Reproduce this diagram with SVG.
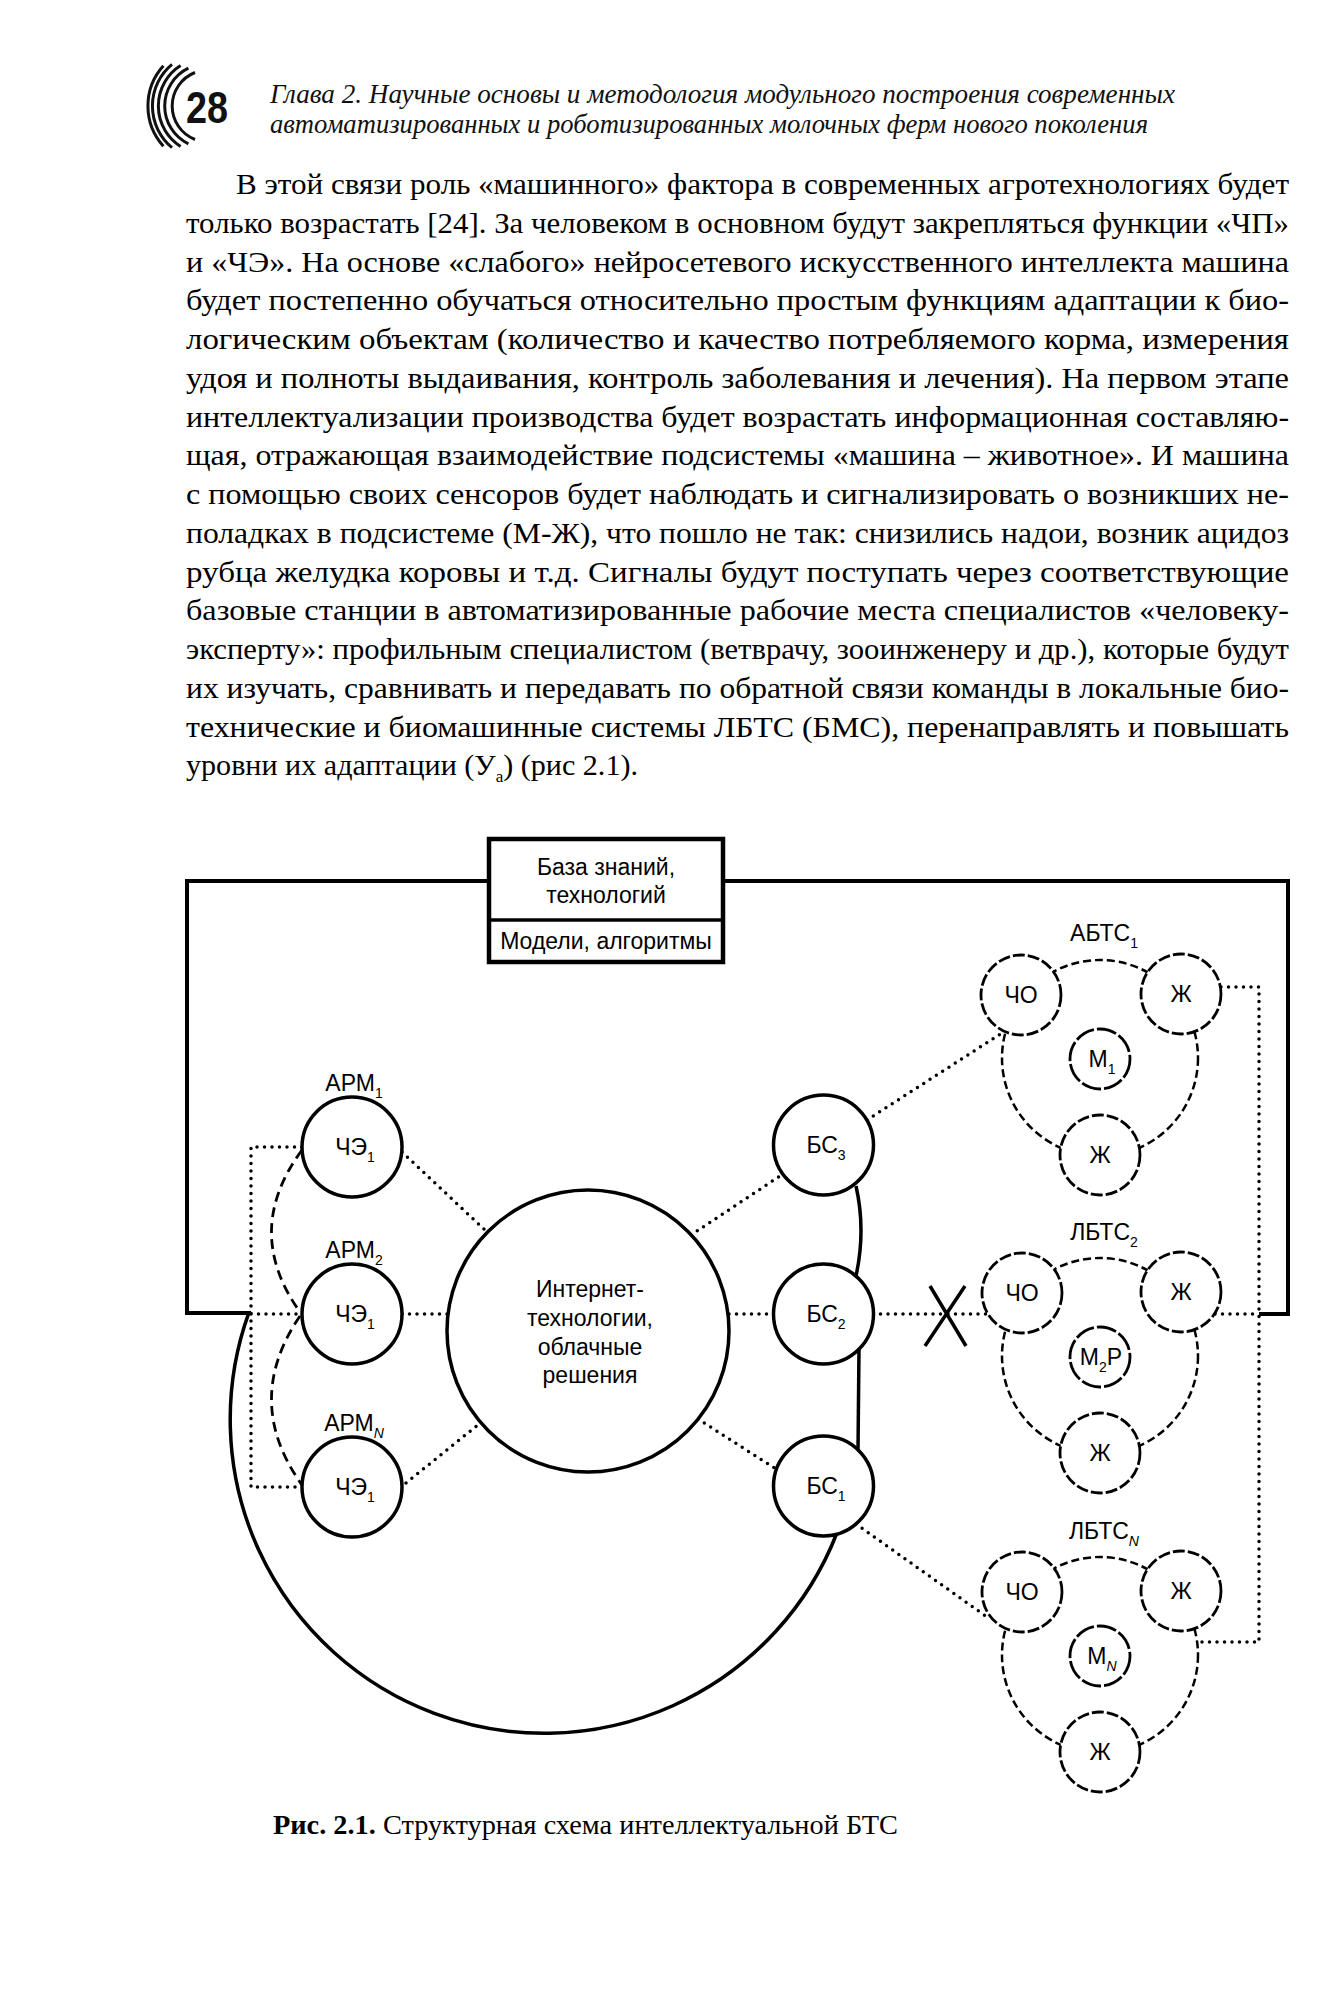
<svg xmlns="http://www.w3.org/2000/svg" width="1329" height="2000" viewBox="0 0 1329 2000">
<style>
.solid{fill:none;stroke:#000;stroke-width:3.5}
.thick{fill:none;stroke:#000;stroke-width:4}
.node{fill:#fff;stroke:#000;stroke-width:3.5}
.dnode{fill:#fff;stroke:#000;stroke-width:2.8;stroke-dasharray:12 3}
.mnode{fill:#fff;stroke:#000;stroke-width:2.8;stroke-dasharray:20 3}
.ring{fill:none;stroke:#000;stroke-width:2.5;stroke-dasharray:8 4}
.dot{fill:none;stroke:#000;stroke-width:3.5;stroke-linecap:round;stroke-dasharray:0 7.5}
.dash{fill:none;stroke:#000;stroke-width:2.8;stroke-dasharray:10 6}
.lbl{font-family:"Liberation Sans",Arial,sans-serif;font-size:23px;fill:#000;text-anchor:middle}
.sub{font-size:14px}
.body{font-family:"Liberation Serif","Times New Roman",serif;font-size:30px;fill:#000}
.head{font-family:"Liberation Serif","Times New Roman",serif;font-size:28px;font-style:italic;fill:#111}
</style>
<rect width="1329" height="2000" fill="#fff"/>

<g id="header">
  <g id="logo" fill="none" stroke="#111" stroke-width="3">
    <path d="M163.4 65.8 A60 60 0 0 0 163.4 146.2"/>
    <path d="M172 64.4 A54 54 0 0 0 172 147.6"/>
    <path d="M180.6 65.5 A48 48 0 0 0 180.6 146.5"/>
    <path d="M188.4 68.2 A42 42 0 0 0 188.4 143.8"/>
    <path d="M195 72.5 A36 36 0 0 0 195 139.5"/>
  </g>
  <text x="207" y="123" font-family="Liberation Sans, Arial, sans-serif" font-weight="bold" font-size="44" text-anchor="middle" fill="#111" textLength="42" lengthAdjust="spacingAndGlyphs">28</text>
  <text class="head" x="270" y="103" textLength="905" lengthAdjust="spacingAndGlyphs">Глава 2. Научные основы и методология модульного построения современных</text>
  <text class="head" x="270" y="133" textLength="878" lengthAdjust="spacingAndGlyphs">автоматизированных и роботизированных молочных ферм нового поколения</text>
</g>

<g id="body-text" class="body">
  <text x="236" y="194" textLength="1053" lengthAdjust="spacingAndGlyphs">В этой связи роль «машинного» фактора в современных агротехнологиях будет</text>
  <text x="186" y="232.75" textLength="1103" lengthAdjust="spacingAndGlyphs">только возрастать [24]. За человеком в основном будут закрепляться функции «ЧП»</text>
  <text x="186" y="271.5" textLength="1103" lengthAdjust="spacingAndGlyphs">и «ЧЭ». На основе «слабого» нейросетевого искусственного интеллекта машина</text>
  <text x="186" y="310.25" textLength="1103" lengthAdjust="spacingAndGlyphs">будет постепенно обучаться относительно простым функциям адаптации к био-</text>
  <text x="186" y="349" textLength="1103" lengthAdjust="spacingAndGlyphs">логическим объектам (количество и качество потребляемого корма, измерения</text>
  <text x="186" y="387.75" textLength="1103" lengthAdjust="spacingAndGlyphs">удоя и полноты выдаивания, контроль заболевания и лечения). На первом этапе</text>
  <text x="186" y="426.5" textLength="1103" lengthAdjust="spacingAndGlyphs">интеллектуализации производства будет возрастать информационная составляю-</text>
  <text x="186" y="465.25" textLength="1103" lengthAdjust="spacingAndGlyphs">щая, отражающая взаимодействие подсистемы «машина – животное». И машина</text>
  <text x="186" y="504" textLength="1103" lengthAdjust="spacingAndGlyphs">с помощью своих сенсоров будет наблюдать и сигнализировать о возникших не-</text>
  <text x="186" y="542.75" textLength="1103" lengthAdjust="spacingAndGlyphs">поладках в подсистеме (М-Ж), что пошло не так: снизились надои, возник ацидоз</text>
  <text x="186" y="581.5" textLength="1103" lengthAdjust="spacingAndGlyphs">рубца желудка коровы и т.д. Сигналы будут поступать через соответствующие</text>
  <text x="186" y="620.25" textLength="1103" lengthAdjust="spacingAndGlyphs">базовые станции в автоматизированные рабочие места специалистов «человеку-</text>
  <text x="186" y="659" textLength="1103" lengthAdjust="spacingAndGlyphs">эксперту»: профильным специалистом (ветврачу, зооинженеру и др.), которые будут</text>
  <text x="186" y="697.75" textLength="1103" lengthAdjust="spacingAndGlyphs">их изучать, сравнивать и передавать по обратной связи команды в локальные био-</text>
  <text x="186" y="736.5" textLength="1103" lengthAdjust="spacingAndGlyphs">технические и биомашинные системы ЛБТС (БМС), перенаправлять и повышать</text>
  <text x="186" y="775.25" textLength="452" lengthAdjust="spacingAndGlyphs">уровни их адаптации (У<tspan font-size="17" dy="7">а</tspan><tspan dy="-7">) (рис 2.1).</tspan></text>
</g>

<g id="connectors">
  <path class="thick" d="M489 881 H187 V1313 H251"/>
  <path class="thick" d="M723 881 H1288 V1314 H1259"/>
  <path class="solid" d="M248.9 1312.6 A314 314 0 0 0 837.1 1532.5"/>
  <path class="solid" d="M858 1450 L859 1349"/>
  <path class="solid" d="M856 1276 Q866 1230 856 1186"/>
  <path class="dot" d="M302 1147 H251 V1487 H302"/>
  <path class="dot" d="M251 1314 H302"/>
  <path class="dash" d="M302 1150 Q242 1231 300 1312"/>
  <path class="dash" d="M300 1316 Q242 1401 302 1485"/>
  <path class="dot" d="M402 1152 L487 1232"/>
  <path class="dot" d="M402 1314 H448"/>
  <path class="dot" d="M406 1483 L479 1424"/>
  <path class="dot" d="M691 1235 L783 1174"/>
  <path class="dot" d="M729 1314 H774"/>
  <path class="dot" d="M698 1419 L776 1469"/>
  <path class="dot" d="M867 1120 L1005 1031"/>
  <path class="dot" d="M873 1314 H989"/>
  <path class="dot" d="M856 1524 L987 1617"/>
  <path class="dot" d="M1221 987 H1259 V1642 H1198"/>
  <path class="dot" d="M1215 1314 H1259"/>
  <path class="solid" d="M930 1286 L966 1346 M965 1286 L925 1346"/>
</g>

<g id="kb-box">
  <rect x="489" y="839" width="234" height="123" fill="#fff" stroke="#000" stroke-width="4.5"/>
  <line x1="489" y1="920" x2="723" y2="920" stroke="#000" stroke-width="3.5"/>
  <text class="lbl" x="606" y="875">База знаний,</text>
  <text class="lbl" x="606" y="903">технологий</text>
  <text class="lbl" x="606" y="949">Модели, алгоритмы</text>
</g>

<g id="internet">
  <circle class="node" cx="588" cy="1331" r="141"/>
  <text class="lbl" x="590" y="1297">Интернет-</text>
  <text class="lbl" x="590" y="1326">технологии,</text>
  <text class="lbl" x="590" y="1355">облачные</text>
  <text class="lbl" x="590" y="1383">решения</text>
</g>

<g id="arm1">
  <text class="lbl" x="354" y="1091">АРМ<tspan class="sub" dy="7">1</tspan></text>
  <circle class="node" cx="352" cy="1147" r="50"/>
  <text class="lbl" x="355" y="1155">ЧЭ<tspan class="sub" dy="7">1</tspan></text>
</g>
<g id="arm2">
  <text class="lbl" x="354" y="1258">АРМ<tspan class="sub" dy="7">2</tspan></text>
  <circle class="node" cx="352" cy="1314" r="50"/>
  <text class="lbl" x="355" y="1322">ЧЭ<tspan class="sub" dy="7">1</tspan></text>
</g>
<g id="armN">
  <text class="lbl" x="354" y="1431">АРМ<tspan class="sub" dy="7" font-style="italic">N</tspan></text>
  <circle class="node" cx="352" cy="1487" r="50"/>
  <text class="lbl" x="355" y="1495">ЧЭ<tspan class="sub" dy="7">1</tspan></text>
</g>

<g id="bs3">
  <circle class="node" cx="823.5" cy="1145" r="50"/>
  <text class="lbl" x="826" y="1153">БС<tspan class="sub" dy="7">3</tspan></text>
</g>
<g id="bs2">
  <circle class="node" cx="823.5" cy="1314" r="50"/>
  <text class="lbl" x="826" y="1322">БС<tspan class="sub" dy="7">2</tspan></text>
</g>
<g id="bs1">
  <circle class="node" cx="823.5" cy="1486" r="50"/>
  <text class="lbl" x="826" y="1494">БС<tspan class="sub" dy="7">1</tspan></text>
</g>

<g id="abts1">
  <text class="lbl" x="1104" y="941">АБТС<tspan class="sub" dy="7">1</tspan></text>
  <circle class="ring" cx="1100" cy="1058" r="98"/>
  <circle class="dnode" cx="1021" cy="995" r="40"/>
  <text class="lbl" x="1021" y="1003">ЧО</text>
  <circle class="dnode" cx="1181" cy="994" r="40"/>
  <text class="lbl" x="1181" y="1002">Ж</text>
  <circle class="mnode" cx="1100" cy="1059" r="30"/>
  <text class="lbl" x="1102" y="1067">М<tspan class="sub" dy="7">1</tspan></text>
  <circle class="dnode" cx="1100" cy="1155" r="40"/>
  <text class="lbl" x="1100" y="1163">Ж</text>
</g>

<g id="lbts2">
  <text class="lbl" x="1104" y="1240">ЛБТС<tspan class="sub" dy="7">2</tspan></text>
  <circle class="ring" cx="1100" cy="1356" r="98"/>
  <circle class="dnode" cx="1022" cy="1293" r="40"/>
  <text class="lbl" x="1022" y="1301">ЧО</text>
  <circle class="dnode" cx="1181" cy="1292" r="40"/>
  <text class="lbl" x="1181" y="1300">Ж</text>
  <circle class="mnode" cx="1100" cy="1357" r="30"/>
  <text class="lbl" x="1101" y="1365">М<tspan class="sub" dy="7">2</tspan><tspan dy="-7">Р</tspan></text>
  <circle class="dnode" cx="1100" cy="1453" r="40"/>
  <text class="lbl" x="1100" y="1461">Ж</text>
</g>

<g id="lbtsN">
  <text class="lbl" x="1104" y="1539">ЛБТС<tspan class="sub" dy="7" font-style="italic">N</tspan></text>
  <circle class="ring" cx="1100" cy="1655" r="98"/>
  <circle class="dnode" cx="1022" cy="1592" r="40"/>
  <text class="lbl" x="1022" y="1600">ЧО</text>
  <circle class="dnode" cx="1181" cy="1591" r="40"/>
  <text class="lbl" x="1181" y="1599">Ж</text>
  <circle class="mnode" cx="1100" cy="1656" r="30"/>
  <text class="lbl" x="1102" y="1664">М<tspan class="sub" dy="7" font-style="italic">N</tspan></text>
  <circle class="dnode" cx="1100" cy="1752" r="40"/>
  <text class="lbl" x="1100" y="1760">Ж</text>
</g>

<text id="caption" x="273" y="1834" font-family="Liberation Serif, Times New Roman, serif" font-size="27" fill="#000" textLength="625" lengthAdjust="spacingAndGlyphs"><tspan font-weight="bold">Рис. 2.1.</tspan> Структурная схема интеллектуальной БТС</text>
</svg>
